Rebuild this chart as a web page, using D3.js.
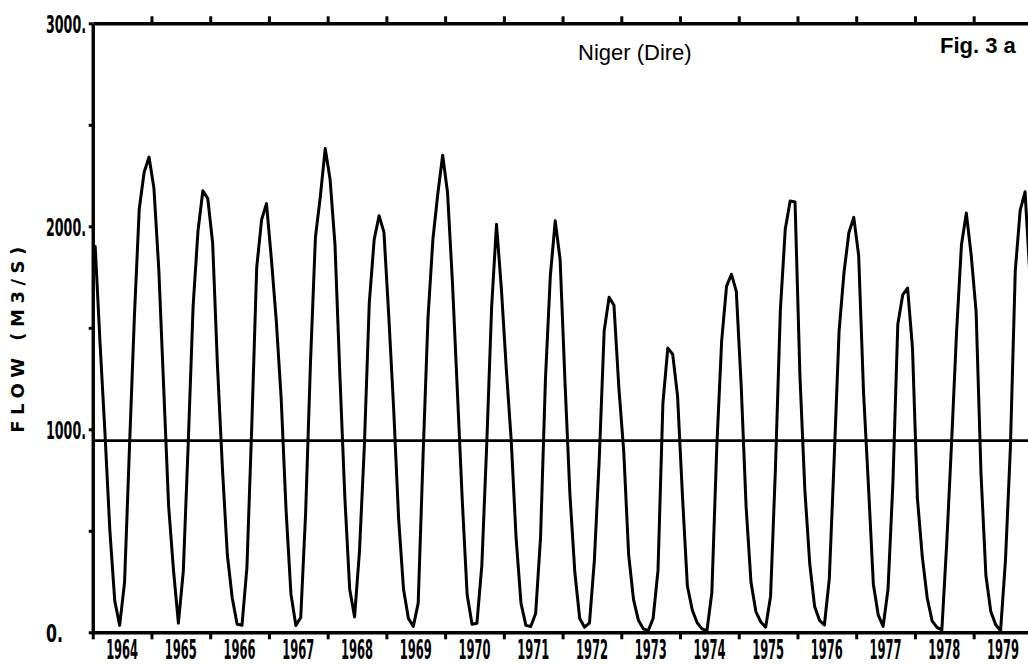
<!DOCTYPE html>
<html>
<head>
<meta charset="utf-8">
<script src="https://cdn.jsdelivr.net/npm/d3@7"></script>
<style>
  html, body { margin: 0; padding: 0; background: #fff; }
  svg { display: block; }
</style>
</head>
<body>
<svg id="chart" width="1028" height="664"></svg>
<script>
// Niger at Dire: monthly mean discharge (m3/s), January to December of each year
const q1964 = [1900, 1420, 980, 500, 154, 34, 246, 907, 1550, 2085, 2266, 2341];
const q1965 = [2188, 1786, 1202, 624, 305, 45, 300, 924, 1603, 1976, 2175, 2137];
const q1966 = [1918, 1304, 806, 382, 169, 40, 35, 319, 1021, 1796, 2032, 2112];
const q1967 = [1839, 1535, 1153, 602, 188, 34, 73, 589, 1336, 1946, 2146, 2383];
const q1968 = [2230, 1908, 1264, 670, 212, 76, 399, 919, 1620, 1934, 2052, 1971];
const q1969 = [1552, 1094, 560, 212, 68, 29, 144, 873, 1549, 1935, 2159, 2350];
const q1970 = [2165, 1722, 1189, 652, 185, 40, 45, 328, 924, 1600, 2010, 1690];
const q1971 = [1298, 948, 466, 144, 34, 29, 93, 466, 1247, 1756, 2027, 1835];
const q1972 = [1230, 680, 297, 68, 25, 46, 356, 856, 1484, 1650, 1611, 1205];
const q1973 = [890, 382, 161, 59, 17, 8, 68, 305, 1128, 1400, 1370, 1162];
const q1974 = [670, 229, 110, 47, 17, 8, 195, 907, 1433, 1704, 1764, 1679];
const q1975 = [1213, 619, 246, 102, 51, 25, 178, 810, 1586, 1985, 2125, 2120];
const q1976 = [1264, 704, 339, 127, 59, 36, 263, 856, 1484, 1772, 1968, 2044];
const q1977 = [1857, 1180, 721, 237, 85, 29, 212, 738, 1518, 1662, 1696, 1400];
const q1978 = [661, 373, 170, 56, 24, 12, 441, 941, 1476, 1908, 2065, 1857];
const q1979 = [1578, 780, 280, 102, 37, 8, 356, 907, 1781, 2078, 2170, 1750];

// Long-term mean flow drawn as a reference line
const meanFlow = 944;

const years = [1964, 1965, 1966, 1967, 1968, 1969, 1970, 1971, 1972, 1973, 1974, 1975, 1976, 1977, 1978, 1979];
const yearLabels = ["1964", "1965", "1966", "1967", "1968", "1969", "1970", "1971", "1972", "1973", "1974", "1975", "1976", "1977", "1978", "1979"];
const yTickValues = [0, 500, 1000, 1500, 2000, 2500, 3000];
const yLabelValues = [0, 1000, 2000, 3000];
const yLabelTexts = ["0.", "1000.", "2000.", "3000."];

const titleText = "Niger (Dire)";
const figText = "Fig. 3 a";
const yTitleText = "FLOW (M3/S)";

const flow = [q1964, q1965, q1966, q1967, q1968, q1969, q1970, q1971,
              q1972, q1973, q1974, q1975, q1976, q1977, q1978, q1979].flat();
const points = flow.map((v, i) => ({ t: years[0] + (i + 0.5) / 12, v }));

const svg = d3.select("#chart");

const x = d3.scaleLinear().domain([1964, 1980]).range([92.75, 1032.4]);
const y = d3.scaleLinear().domain([0, 3000]).range([632.3, 23.3]);

const ink = "#000";
const plotFont = "'Liberation Sans Narrow', 'DejaVu Sans Condensed', 'Liberation Sans', sans-serif";

// mean flow line
svg.append("line")
  .attr("x1", x(1964)).attr("x2", x(1980))
  .attr("y1", y(meanFlow)).attr("y2", y(meanFlow))
  .attr("stroke", ink).attr("stroke-width", 2.6);

// discharge series
const line = d3.line().x(d => x(d.t)).y(d => y(d.v));
svg.append("path")
  .datum(points)
  .attr("d", line)
  .attr("fill", "none")
  .attr("stroke", ink)
  .attr("stroke-width", 3)
  .attr("stroke-linejoin", "round")
  .attr("stroke-linecap", "round");

function styleAxis(g) {
  g.selectAll(".domain").attr("stroke", ink).attr("stroke-width", 3.4);
  g.selectAll(".tick line").attr("stroke", ink).attr("stroke-width", 3);
  g.selectAll(".tick text").remove();
}

// bottom axis with year boundaries
svg.append("g")
  .attr("transform", `translate(0,${y(0)})`)
  .call(d3.axisBottom(x).tickValues(years).tickSize(7).tickSizeOuter(0).tickFormat(""))
  .call(styleAxis);

// top axis
svg.append("g")
  .attr("transform", `translate(0,${y(3000)})`)
  .call(d3.axisTop(x).tickValues(years.slice(1)).tickSize(7).tickSizeOuter(0).tickFormat(""))
  .call(styleAxis);

// left axis
svg.append("g")
  .attr("transform", `translate(${x(1964)},0)`)
  .call(d3.axisLeft(y).tickValues(yTickValues).tickSize(4).tickSizeOuter(0).tickFormat(""))
  .call(styleAxis);

// squeeze a label horizontally to a given width (narrow plotter lettering)
function squeeze(sel, width, anchorX, baseY, anchor) {
  sel.each(function (d, i) {
    const el = d3.select(this);
    const w = typeof width === "function" ? width(d, i) : width;
    const len = this.getComputedTextLength() || w;
    const sx = Math.min(1, w / len);
    const ax = anchorX(d, i);
    const by = baseY(d, i);
    el.attr("x", 0).attr("y", 0)
      .attr("text-anchor", anchor)
      .attr("transform", `translate(${ax},${by}) scale(${sx},1)`);
  });
}

// year labels, centred within each year
svg.append("g").selectAll("text")
  .data(years)
  .join("text")
  .attr("font-family", plotFont)
  .attr("font-weight", "bold")
  .attr("font-size", 26)
  .attr("fill", ink)
  .text((d, i) => yearLabels[i])
  .call(squeeze, 32, d => x(d + 0.5), () => 658.5, "middle");

// flow labels
svg.append("g").selectAll("text")
  .data(yLabelValues)
  .join("text")
  .attr("font-family", plotFont)
  .attr("font-weight", "bold")
  .attr("font-size", 24)
  .attr("fill", ink)
  .text((d, i) => yLabelTexts[i])
  .call(squeeze, (d, i) => yLabelTexts[i].length === 2 ? 17 : 40, () => 46, d => y(d) + 10, "start");

// axis title
svg.append("text")
  .attr("transform", "translate(23.5,337) rotate(-90)")
  .attr("text-anchor", "middle")
  .attr("font-family", "'DejaVu Sans', sans-serif")
  .attr("font-weight", "bold")
  .attr("font-size", 18)
  .attr("letter-spacing", 5.5)
  .attr("fill", ink)
  .text(yTitleText);

// station name and figure number
svg.append("text")
  .attr("x", 578).attr("y", 60)
  .attr("font-family", "'Liberation Sans', Arial, sans-serif")
  .attr("font-size", 22)
  .attr("fill", ink)
  .text(titleText);

svg.append("text")
  .attr("x", 940).attr("y", 53)
  .attr("font-family", "'Liberation Sans', Arial, sans-serif")
  .attr("font-weight", "bold")
  .attr("font-size", 22)
  .attr("fill", ink)
  .text(figText);
</script>
</body>
</html>
